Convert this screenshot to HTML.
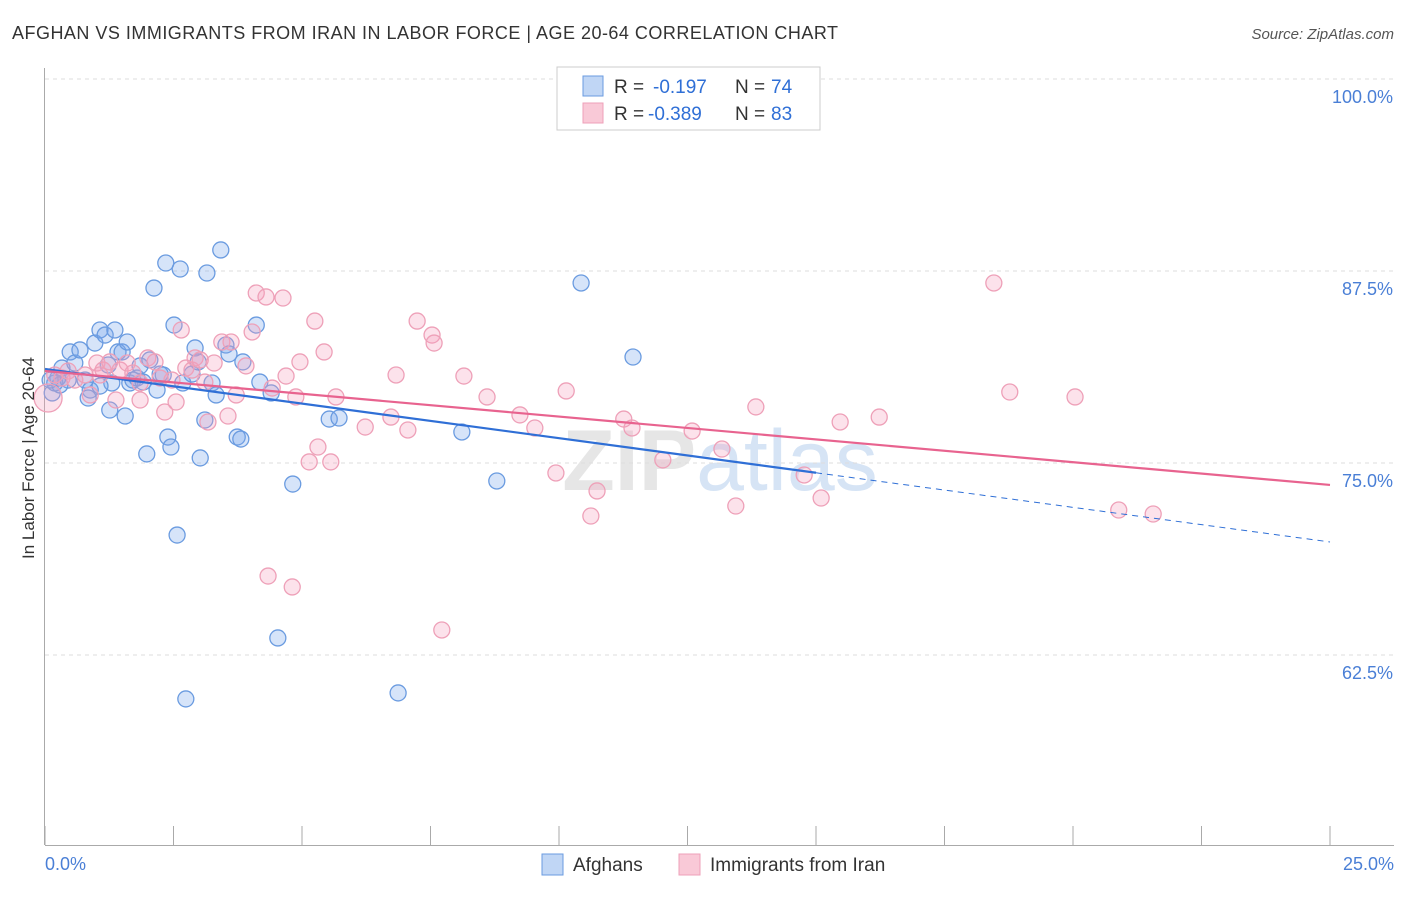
<!DOCTYPE html>
<html><head><meta charset="utf-8"><style>
body{margin:0;background:#fff;font-family:"Liberation Sans",sans-serif;}
svg text{font-family:"Liberation Sans",sans-serif;}
</style></head><body>
<svg id="chart" width="1406" height="892" xmlns="http://www.w3.org/2000/svg">
<text x="12" y="39" font-size="18" fill="#333" textLength="826" lengthAdjust="spacing">AFGHAN VS IMMIGRANTS FROM IRAN IN LABOR FORCE | AGE 20-64 CORRELATION CHART</text>
<text x="1394" y="39" font-size="15" fill="#555" font-style="italic" text-anchor="end">Source: ZipAtlas.com</text>
<text x="720" y="490" font-size="86" text-anchor="middle" fill="#e6e6e6" font-family="Liberation Serif" font-weight="bold">ZIP<tspan fill="#d6e4f5" font-family="Liberation Sans" font-weight="normal">atlas</tspan></text>
<g id="grid"></g><g id="axes"></g><g id="pts"></g><g id="trends"></g>
<text transform="translate(34,458) rotate(-90)" font-size="17" fill="#333" text-anchor="middle">In Labor Force | Age 20-64</text>
<text x="45" y="870" font-size="18" fill="#4a7fd6">0.0%</text>
<text x="1394" y="870" font-size="18" fill="#4a7fd6" text-anchor="end">25.0%</text>
<g>
<rect x="557" y="67" width="263" height="63" fill="#fff" stroke="#ccc"/>
<rect x="583" y="76" width="20" height="20" fill="#c0d6f5" stroke="#6a9be0"/>
<rect x="583" y="103" width="20" height="20" fill="#f9c9d7" stroke="#eea0b8"/>
<text x="614" y="93" font-size="19" fill="#333">R =</text>
<text x="653" y="93" font-size="19" fill="#2f6fd6">-0.197</text>
<text x="735" y="93" font-size="19" fill="#333">N =</text>
<text x="771" y="93" font-size="19" fill="#2f6fd6">74</text>
<text x="614" y="120" font-size="19" fill="#333">R =</text>
<text x="648" y="120" font-size="19" fill="#2f6fd6">-0.389</text>
<text x="735" y="120" font-size="19" fill="#333">N =</text>
<text x="771" y="120" font-size="19" fill="#2f6fd6">83</text>
</g>
<g>
<rect x="542" y="854" width="21" height="21" fill="#c0d6f5" stroke="#6a9be0"/>
<text x="573" y="871" font-size="19" fill="#333">Afghans</text>
<rect x="679" y="854" width="21" height="21" fill="#f9c9d7" stroke="#eea0b8"/>
<text x="710" y="871" font-size="19" fill="#333">Immigrants from Iran</text>
</g>
</svg>
<script>
const yTicks=[100,87.5,75,62.5];
const yTickLabels=["100.0%","87.5%","75.0%","62.5%"];
const xTicks=[0,2.5,5,7.5,10,12.5,15,17.5,20,22.5,25];
const blueX=[0.14,0.19,0.25,0.33,0.49,0.58,0.68,0.78,0.88,0.97,1.07,1.17,1.26,1.30,1.36,1.42,1.50,1.56,1.60,1.65,1.71,1.79,1.85,1.98,2.04,2.12,2.18,2.24,2.30,2.35,2.39,2.45,2.51,2.57,2.63,2.68,2.74,2.86,2.92,2.98,3.02,3.11,3.15,3.25,3.33,3.42,3.52,3.58,3.74,3.81,3.85,4.11,4.18,4.40,4.53,4.82,5.53,5.72,6.87,8.11,8.79,10.43,11.44,0.45,0.84,1.07,1.23,1.91,0.29,0.10];
const blueY=[79.56,80.21,80.53,81.18,82.23,81.51,82.36,80.40,79.75,82.81,83.66,83.33,78.45,80.21,83.66,82.23,82.23,78.06,82.88,80.21,80.40,80.53,81.32,75.59,81.71,86.39,79.75,80.79,80.73,88.02,76.69,76.04,83.98,70.31,87.63,80.21,59.64,80.79,82.49,81.58,75.33,77.80,87.37,80.21,79.43,88.87,82.68,82.10,76.69,76.56,81.58,83.98,80.27,79.56,63.61,73.63,77.86,77.93,60.03,77.02,73.83,86.72,81.90,80.40,79.23,80.01,81.38,80.27,80.08,80.40];
const pinkX=[0.06,0.19,0.33,0.45,0.58,0.78,0.88,1.01,1.13,1.26,1.38,1.46,1.60,1.71,1.85,2.00,2.14,2.24,2.33,2.47,2.55,2.65,2.74,2.86,2.92,3.02,3.11,3.17,3.29,3.44,3.56,3.62,3.72,3.91,4.03,4.11,4.30,4.34,4.42,4.63,4.69,4.81,4.88,4.96,5.14,5.25,5.31,5.43,5.56,5.66,6.23,6.73,6.83,7.06,7.24,7.53,7.57,7.72,8.15,8.60,9.24,9.53,9.94,10.14,10.62,10.74,11.26,11.42,12.02,12.59,13.17,13.44,13.83,14.77,15.10,15.47,16.23,18.46,18.77,20.04,20.89,21.56,1.85,1.07];
const pinkY=[79.23,80.73,80.53,80.99,80.40,80.73,79.43,81.51,81.05,81.58,79.10,81.05,81.51,80.86,80.21,81.84,81.58,80.53,78.32,80.40,78.97,83.66,81.18,81.05,81.84,81.71,80.27,77.67,81.51,82.88,78.06,82.88,79.43,81.32,83.53,86.07,85.81,67.64,79.88,85.74,80.66,66.93,79.30,81.58,75.07,84.24,76.04,82.23,75.07,79.30,77.34,77.99,80.73,77.15,84.24,83.33,82.81,64.13,80.66,79.30,78.13,77.28,74.35,79.69,71.55,73.18,77.86,77.28,75.20,77.08,75.91,72.20,78.65,74.22,72.72,77.67,77.99,86.72,79.62,79.30,71.94,71.68,79.10,80.73];
const blueTrend=[81.12,69.86];
const pinkTrend=[80.99,73.57];
const blueSolidEnd=15;
const NS="http://www.w3.org/2000/svg";
function sx(v){return 45+v/25*1285;}
function sy(v){return 79+(100-v)/12.5*192;}
function mk(tag,attrs,parent){const e=document.createElementNS(NS,tag);for(const k in attrs)e.setAttribute(k,attrs[k]);parent.appendChild(e);return e;}
const grid=document.getElementById('grid'),axes=document.getElementById('axes'),pts=document.getElementById('pts'),tr=document.getElementById('trends');
yTicks.forEach((t,i)=>{
 const l=mk('line',{x1:45,x2:1394,y1:sy(t),y2:sy(t),stroke:'#ddd','stroke-dasharray':'4,4'},grid);
 
 
 const tx=mk('text',{x:1393,y:sy(t)+24,'font-size':18,fill:'#4a7fd6','text-anchor':'end'},axes);
 tx.textContent=yTickLabels[i];
 
 
});
const ya=mk('line',{x1:44.5,x2:44.5,y1:68,y2:845,stroke:'#aaa'},axes);


const xa=mk('line',{x1:45,x2:1394,y1:845.5,y2:845.5,stroke:'#aaa'},axes);


xTicks.forEach(t=>{
 const l=mk('line',{x1:sx(t),x2:sx(t),y1:826,y2:845,stroke:'#aaa'},axes);
 
 
});
function drawPts(X,Y,fill,stroke,name){
 X.forEach((x,i)=>{
  const c=mk('circle',{cx:sx(x),cy:sy(Y[i]),r:(i===0&&name==='iran-point')?14:8,fill:fill,stroke:stroke,'stroke-width':1.3},pts);
  
  
 });
}
drawPts(blueX,blueY,'rgba(120,165,235,0.3)','#6a9be0','afghan-point');
drawPts(pinkX,pinkY,'rgba(245,160,190,0.3)','#eea0b8','iran-point');
function ty(t,x){return t[0]+(t[1]-t[0])*x/25;}
const b1=mk('line',{x1:sx(0),y1:sy(ty(blueTrend,0)),x2:sx(blueSolidEnd),y2:sy(ty(blueTrend,blueSolidEnd)),stroke:'#2f6fd6','stroke-width':2.2},tr);


const b2=mk('line',{x1:sx(blueSolidEnd),y1:sy(ty(blueTrend,blueSolidEnd)),x2:sx(25),y2:sy(ty(blueTrend,25)),stroke:'#2f6fd6','stroke-width':1,'stroke-dasharray':'6,5'},tr);


const p1=mk('line',{x1:sx(0),y1:sy(ty(pinkTrend,0)),x2:sx(25),y2:sy(ty(pinkTrend,25)),stroke:'#e8638f','stroke-width':2.2},tr);


</script>
</body></html>
